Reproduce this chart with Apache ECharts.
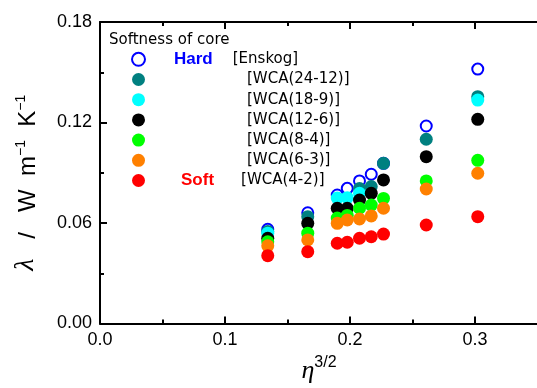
<!DOCTYPE html>
<html><head><meta charset="utf-8">
<script src="https://cdn.jsdelivr.net/npm/echarts@6/dist/echarts.min.js"></script>
<style>html,body{margin:0;padding:0;background:#fff}#c{width:537px;height:388px}</style>
</head><body><div id="c"></div>
<script>
// state points (eta^{3/2})
const eta32 = [0.1342, 0.1662, 0.1898, 0.1978, 0.2076, 0.2170, 0.2268, 0.2610, 0.3022];
// thermal conductivity lambda / W m^-1 K^-1 (null = not shown)
const lamEnskog  = [0.0562, 0.0661, 0.0767, 0.0807, 0.0851, 0.0891, 0.0956, 0.1179, 0.1519];
const lamWCA2412 = [0.0549, 0.0638, null,   null,   0.0806, 0.0818, 0.0956, 0.1100, 0.1354];
const lamWCA189  = [0.0539, null,   0.0749, 0.0751, 0.0777, null,   null,   null,   0.1334];
const lamWCA126  = [0.0509, 0.0598, 0.0688, 0.0688, 0.0737, 0.0777, 0.0857, 0.0996, 0.1219];
const lamWCA84   = [0.0488, 0.0539, 0.0630, 0.0645, 0.0688, 0.0707, 0.0747, 0.0851, 0.0974];
const lamWCA63   = [0.0464, 0.0499, 0.0598, 0.0618, 0.0624, 0.0642, 0.0688, 0.0803, 0.0897];
const lamWCA42   = [0.0405, 0.0429, 0.0479, 0.0485, 0.0509, 0.0518, 0.0534, 0.0588, 0.0638];

const seriesNames = ['[Enskog]', '[WCA(24-12)]', '[WCA(18-9)]', '[WCA(12-6)]', '[WCA(8-4)]', '[WCA(6-3)]', '[WCA(4-2)]'];
const seriesData = [lamEnskog, lamWCA2412, lamWCA189, lamWCA126, lamWCA84, lamWCA63, lamWCA42];
const seriesColors = ['#0000ff', '#008080', '#00ffff', '#000000', '#00ff00', '#ff8000', '#ff0000'];
const titleText = 'Softness of core';
const hardLabel = 'Hard';
const softLabel = 'Soft';

const FONT = 'Liberation Sans';
const LFONT = 'DejaVu Sans';

function pairs(ys) {
  const out = [];
  ys.forEach((y, i) => { if (y != null) out.push([eta32[i], y]); });
  return out;
}

const series = seriesNames.map((n, i) => ({
  name: n,
  type: 'scatter',
  symbol: i === 0 ? 'emptyCircle' : 'circle',
  symbolSize: i === 0 ? 11 : 13,
  itemStyle: { color: seriesColors[i], opacity: 1 },
  emphasis: { disabled: true },
  z: 2 + i,
  data: pairs(seriesData[i])
}));

function legendFmt(name) {
  const idx = seriesNames.indexOf(name);
  if (idx === 0) return '{hd|' + hardLabel + '}{en|' + name + '}';
  if (idx === seriesNames.length - 1) return '{sf|' + softLabel + '}{so|' + name + '}';
  return '{w|' + name + '}';
}

const axisCommon = {
  axisLine: { lineStyle: { color: '#000', width: 2 } },
  axisTick: { inside: true, length: 7, lineStyle: { color: '#000', width: 2 } },
  minorTick: { show: true, splitNumber: 2, length: 4, lineStyle: { color: '#000', width: 2 } },
  splitLine: { show: false },
  minorSplitLine: { show: false }
};

const option = {
  animation: false,
  backgroundColor: '#fff',
  title: {
    text: titleText, left: 109, top: 33, padding: 0,
    textStyle: { fontSize: 15, fontWeight: 'normal', fontFamily: LFONT, color: '#000' }
  },
  legend: {
    orient: 'vertical', left: 131, top: 49.3, padding: 0,
    itemWidth: 13, itemHeight: 13, itemGap: 0.2,
    selectedMode: false,
    data: seriesNames,
    formatter: legendFmt,
    textStyle: {
      fontFamily: LFONT, fontSize: 15, color: '#000', lineHeight: 20,
      rich: {
        hd: { color: '#0000ff', fontWeight: 'bold', fontSize: 17, fontFamily: FONT, lineHeight: 20, padding: [0, 0, 0, 24] },
        en: { color: '#000', fontSize: 15, fontFamily: LFONT, lineHeight: 20, padding: [0, 0, 0, 20] },
        sf: { color: '#ff0000', fontWeight: 'bold', fontSize: 17, fontFamily: FONT, lineHeight: 20, padding: [0, 0, 0, 31] },
        so: { color: '#000', fontSize: 15, fontFamily: LFONT, lineHeight: 20, padding: [0, 0, 0, 27] },
        w: { color: '#000', fontSize: 15, fontFamily: LFONT, lineHeight: 20, padding: [0, 0, 0, 97] }
      }
    }
  },
  grid: { left: 100, width: 500, top: 22, bottom: 64.5, containLabel: false, outerBoundsMode: 'none' },
  xAxis: [
    Object.assign({}, axisCommon, {
      type: 'value', min: 0, max: 0.4, interval: 0.1, position: 'bottom',
      name: '{e|η}{s|3/2}', nameLocation: 'middle', nameGap: 30,
      nameTextStyle: {
        padding: [0, 62, 0, 0],
        rich: {
          e: { fontFamily: 'Liberation Serif', fontStyle: 'italic', fontSize: 26, color: '#000', verticalAlign: 'bottom' },
          s: { fontFamily: FONT, fontSize: 16, color: '#000', padding: [0, 0, 14, 0], verticalAlign: 'bottom' }
        }
      },
      axisLabel: { fontFamily: FONT, fontSize: 18, color: '#000', margin: 8, showMaxLabel: false,
        formatter: v => v.toFixed(1) }
    }),
    Object.assign({}, axisCommon, {
      type: 'value', min: 0, max: 0.4, interval: 0.1, position: 'top',
      axisLabel: { show: false }
    })
  ],
  yAxis: Object.assign({}, axisCommon, {
    type: 'value', min: 0, max: 0.18, interval: 0.06,
    name: '{l|λ}{t|   /   W  m}{s|−1}{t|  K}{s|−1}', nameLocation: 'middle', nameGap: 60,
    nameTextStyle: {
      padding: [0, 20, 0, 0],
      rich: {
        l: { fontFamily: 'Liberation Serif', fontStyle: 'italic', fontSize: 28, color: '#000', verticalAlign: 'bottom' },
        t: { fontFamily: FONT, fontSize: 24, color: '#000', verticalAlign: 'bottom' },
        s: { fontFamily: FONT, fontSize: 14, color: '#000', padding: [0, 0, 12, 0], verticalAlign: 'bottom' }
      }
    },
    axisLabel: { fontFamily: FONT, fontSize: 18, color: '#000', margin: 8,
      formatter: v => v.toFixed(2) }
  }),
  series: series
};

const chart = echarts.init(document.getElementById('c'), null, { renderer: 'canvas' });
chart.setOption(option);
</script>
</body></html>
